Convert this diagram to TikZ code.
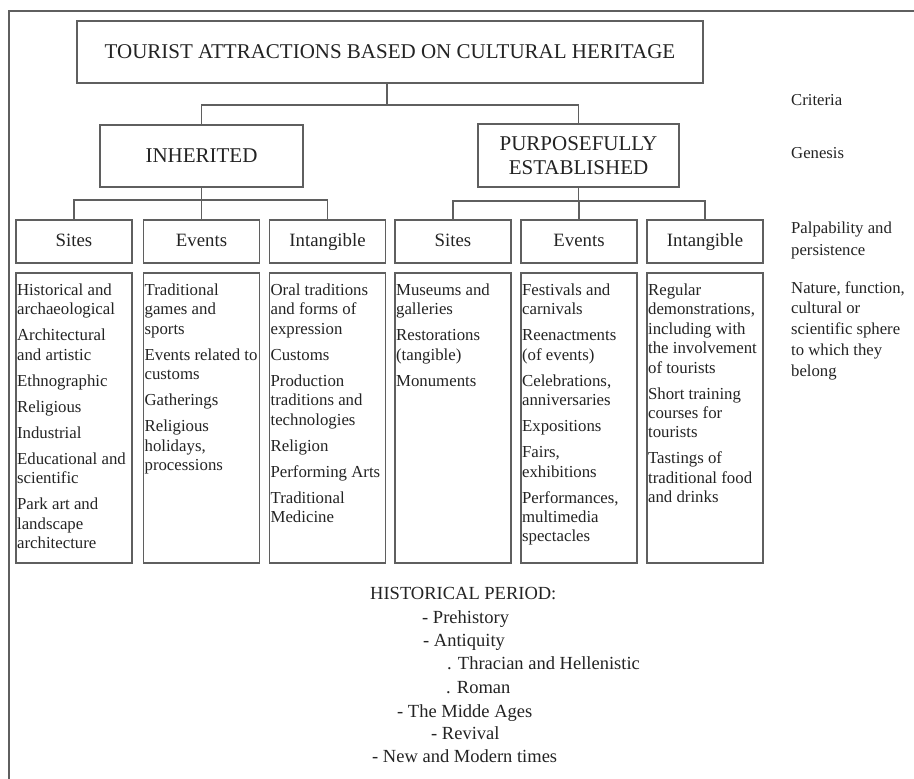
\documentclass[tikz,border=0pt]{standalone}
\usepackage{fontspec}
\setmainfont{Liberation Serif}
\definecolor{linec}{RGB}{95,95,95}
\definecolor{textc}{RGB}{35,35,35}
\tikzset{
  box/.style={draw=linec, line width=1.2pt, inner sep=0pt, rectangle, text=textc},
  headbox/.style={box, minimum width=116pt, minimum height=43pt, text height=13pt, text depth=4pt,
    font=\fontsize{18.8}{22}\selectfont},
  contbox/.style={box, minimum width=116pt, minimum height=290pt},
  ctext/.style={anchor=base west, inner sep=0pt, text=textc, align=flush left, text width=150pt,
    font=\fontsize{16.8}{19.4}\selectfont},
  side/.style={anchor=base west, inner sep=0pt, text=textc, align=flush left, text width=125pt,
    font=\fontsize{16.7}{21}\selectfont},
  hist/.style={anchor=base west, inner sep=0pt, text=textc, font=\fontsize{18.5}{23}\selectfont},
  conn/.style={draw=linec, line width=1.2pt},
}
\begin{document}
\begin{tikzpicture}[x=1pt,y=-1pt]
\useasboundingbox (0,0) rectangle (914,779);
% frame
\coordinate (fr1) at (9,779);
\coordinate (fr2) at (9,11);
\coordinate (fr3) at (914,11);
\draw[draw=linec, line width=1.5pt] (fr1) -- (fr2) -- (fr3);

% top level
\node[box, minimum width=626pt, minimum height=62pt, font=\fontsize{21}{24}\selectfont] (top) at (390,52)
  {TOURIST ATTRACTIONS BASED ON CULTURAL HERITAGE};
\node[box, minimum width=203pt, minimum height=62pt, font=\fontsize{21}{24}\selectfont] (inh) at (201.5,156) {INHERITED};
\node[box, minimum width=201pt, minimum height=63pt, align=center, font=\fontsize{21}{24.5}\selectfont] (pur) at (578.5,155.5)
  {PURPOSEFULLY\\ESTABLISHED};

% headings
\node[headbox] (h1) at (74,241.5) {Sites};
\node[headbox] (h2) at (201.5,241.5) {Events};
\node[headbox] (h3) at (327.5,241.5) {Intangible};
\node[headbox] (h4) at (453,241.5) {Sites};
\node[headbox] (h5) at (579,241.5) {Events};
\node[headbox] (h6) at (705,241.5) {Intangible};

% content boxes
\node[contbox] (c1) at (74,418) {};
\node[contbox] (c2) at (201.5,418) {};
\node[contbox] (c3) at (327.5,418) {};
\node[contbox] (c4) at (453,418) {};
\node[contbox] (c5) at (579,418) {};
\node[contbox] (c6) at (705,418) {};

% connectors
\coordinate (j1) at (387,105);
\draw[conn] (top.south -| j1) -- (j1);
\draw[conn] (inh.north) |- (j1);
\draw[conn] (pur.north) |- (j1);
\coordinate (j2) at (201.5,200);
\draw[conn] (inh.south) -- (j2);
\draw[conn] (h1.north) |- (j2);
\draw[conn] (h2.north) -- (j2);
\draw[conn] (h3.north) |- (j2);
\coordinate (j3) at (578.5,201);
\draw[conn] (pur.south) -- (j3);
\draw[conn] (h4.north) |- (j3);
\draw[conn] (h5.north) |- (j3);
\draw[conn] (h6.north) |- (j3);

% content texts
\node[ctext] (t1) at ([shift={(1.5,23)}]c1.north west)
  {Historical and\\archaeological\\[6.6pt]Architectural\\and artistic\\[6.6pt]Ethnographic\\[6.6pt]Religious\\[6.6pt]Industrial\\[6.6pt]Educational and\\scientific\\[6.6pt]Park art and\\landscape\\architecture};
\node[ctext] (t2) at ([shift={(1.5,23)}]c2.north west)
  {Traditional\\games and\\sports\\[6.6pt]Events related to\\customs\\[6.6pt]Gatherings\\[6.6pt]Religious\\holidays,\\processions};
\node[ctext] (t3) at ([shift={(1.5,23)}]c3.north west)
  {Oral traditions\\and forms of\\expression\\[6.6pt]Customs\\[6.6pt]Production\\traditions and\\technologies\\[6.6pt]Religion\\[6.6pt]Performing Arts\\[6.6pt]Traditional\\Medicine};
\node[ctext] (t4) at ([shift={(1.5,23)}]c4.north west)
  {Museums and\\galleries\\[6.6pt]Restorations\\(tangible)\\[6.6pt]Monuments};
\node[ctext] (t5) at ([shift={(1.5,23)}]c5.north west)
  {Festivals and\\carnivals\\[6.6pt]Reenactments\\(of events)\\[6.6pt]Celebrations,\\anniversaries\\[6.6pt]Expositions\\[6.6pt]Fairs,\\exhibitions\\[6.6pt]Performances,\\multimedia\\spectacles};
\node[ctext] (t6) at ([shift={(1.5,23)}]c6.north west)
  {Regular\\demonstrations,\\including with\\the involvement\\of tourists\\[6.6pt]Short training\\courses for\\tourists\\[6.6pt]Tastings of\\traditional food\\and drinks};

% side labels
\node[side] (s1) at (791,105) {Criteria};
\node[side] (s2) at (791,158) {Genesis};
\node[side, font=\fontsize{16.7}{22}\selectfont] (s3) at (791,233) {Palpability and\\persistence};
\node[side, font=\fontsize{16.7}{20.75}\selectfont] (s4) at (791,293) {Nature, function,\\cultural or\\scientific sphere\\to which they\\belong};

% historical period
\node[hist] (p0) at (370,599) {HISTORICAL PERIOD:};
\node[hist] (p1) at (422,623.5) {- Prehistory};
\node[hist] (p2) at (423,646.5) {- Antiquity};
\node[hist] (p3) at (447,669.5) {. Thracian and Hellenistic};
\node[hist] (p4) at (446,693.5) {. Roman};
\node[hist] (p5) at (397,717.5) {- The Midde Ages};
\node[hist] (p6) at (431,739.5) {- Revival};
\node[hist] (p7) at (372,762.5) {- New and Modern times};
\end{tikzpicture}
\end{document}
